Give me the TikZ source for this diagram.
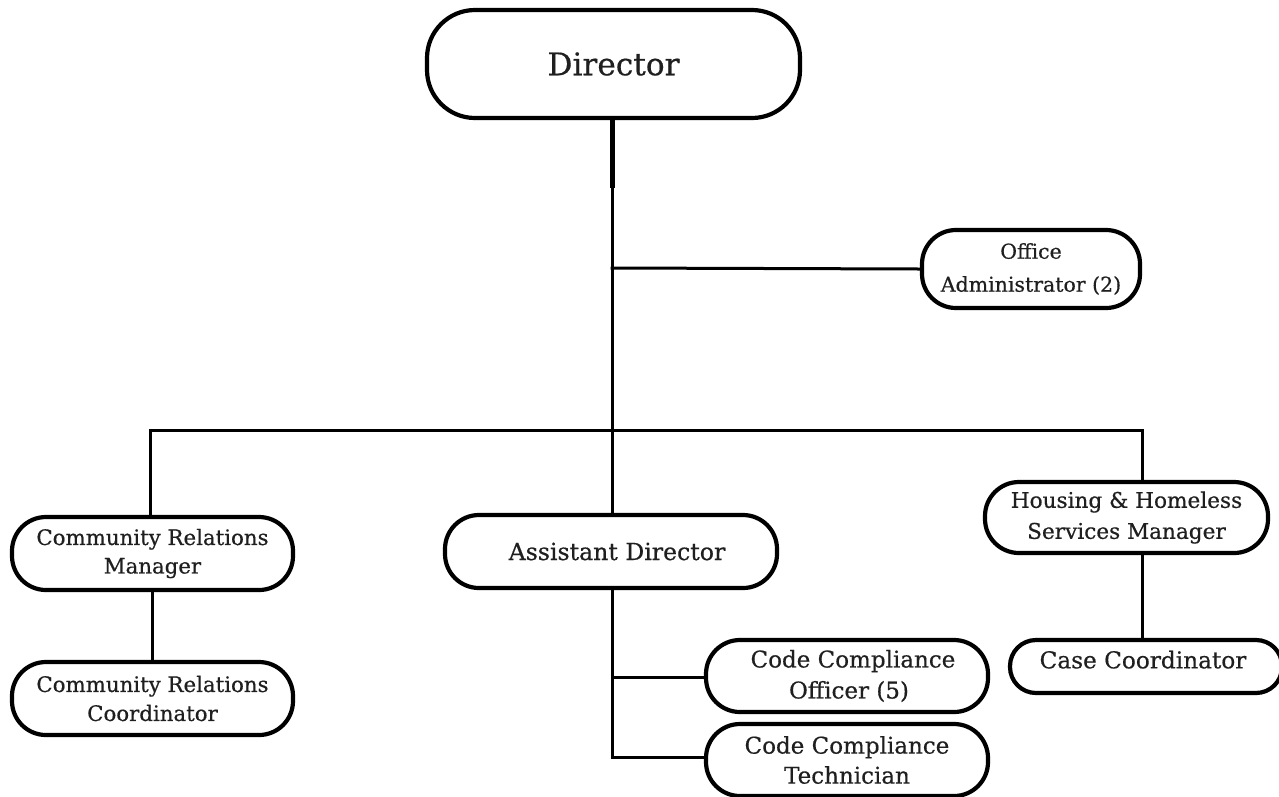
\documentclass[tikz,border=0pt]{standalone}
\usepackage{fontspec}
\setmainfont[FakeBold=0.5]{DejaVu Serif}
\newcommand{\fs}[1]{\fontsize{#1}{30}\selectfont}
\begin{document}
\begin{tikzpicture}[x=1pt,y=-1pt,
  box/.style={draw=black, line width=4.2pt, fill=white, rounded corners=34pt,
    align=center, inner sep=0pt, font=\fs{21.3}, text=black!88},
  link/.style={line width=3pt, line cap=rect}]
\useasboundingbox (0,0) rectangle (1279,796);

% positions
\node[box, minimum width=373pt, minimum height=108pt, rounded corners=48pt,
      font=\fs{31.2}] (dir) at (613.5,64) {Director};
\node[box, minimum width=218pt, minimum height=78pt, font=\fontsize{20.5}{33}\selectfont]
      (off) at (1031,269) {Office\\Administrator (2)};
\node[box, minimum width=281pt, minimum height=73pt, font=\fontsize{21.3}{28.5}\selectfont]
      (crm) at (152.5,553.5) {Community Relations\\Manager};
\node[box, minimum width=281pt, minimum height=73pt, font=\fontsize{21.3}{29}\selectfont]
      (crc) at (152.5,698.5) {Community Relations\\Coordinator};
\node[box, minimum width=332pt, minimum height=73pt, font=\fs{23.6}]
      (ad) at (611,551.5) {\hspace*{12pt}Assistant Director};
\node[box, minimum width=282pt, minimum height=72pt, font=\fontsize{23}{31}\selectfont]
      (cco) at (847,676) {\hspace*{12pt}Code Compliance\\\hspace*{4pt}Officer (5)};
\node[box, minimum width=282pt, minimum height=72pt, font=\fs{23}]
      (cct) at (847,760) {Code Compliance\\Technician};
\node[box, minimum width=283pt, minimum height=71pt, font=\fontsize{21.6}{31}\selectfont]
      (hhs) at (1126.5,517.5) {Housing \& Homeless\\Services Manager};
\node[box, minimum width=272pt, minimum height=53pt, rounded corners=26pt, font=\fs{23.2}]
      (cc) at (1146,666.5) {\raisebox{4pt}[0.75em][0.25em]{Case Coordinator}\hspace*{6pt}};

% junction points
\coordinate (stem) at (612,188);
\coordinate (offj) at (612,268);
\coordinate (busl) at (150,430);
\coordinate (busr) at (1142,430);
\coordinate (cocj) at (612,677);
\coordinate (tecj) at (612,757);

% connectors
\draw[line width=5pt] (dir.south -| stem) -- (stem);
\draw[link] (stem) -- (ad.north -| stem);
\draw[link] (offj) -- (off.west);
\draw[link] (busl) -- (busr);
\draw[link] (busl) -- (busl |- crm.north);
\draw[link] (busr) -- (busr |- hhs.north);
\draw[link] (crm.south) -- (crc.north);
\draw[link] (busr |- hhs.south) -- (busr |- cc.north);
\draw[link] (ad.south -| stem) -- (tecj);
\draw[link] (cocj) -- (cocj -| cco.west);
\draw[link] (tecj) -- (tecj -| cct.west);
\end{tikzpicture}
\end{document}
